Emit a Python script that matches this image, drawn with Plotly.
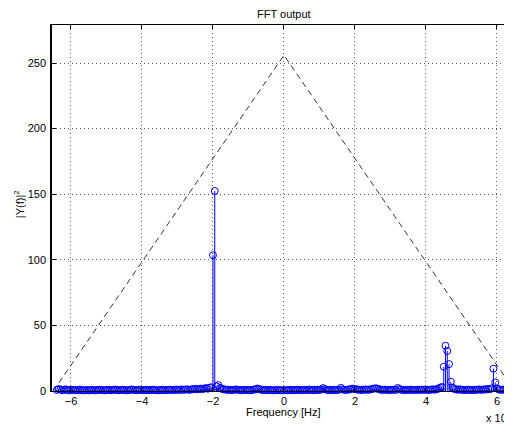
import numpy as np
import plotly.graph_objects as go

# FFT bin grid (units of 1e7 Hz): N bins, sampling frequency fs
N = 256
fs = 12.8
freq = (np.arange(N) - N / 2) * fs / N

# |Y(f)|^2 values
power = [
    0.8, 1.5, 1.2, 0.6, 0.9, 1.3, 0.7, 0.5, 1.0, 0.8, 0.6, 0.9, 0.7, 1.1, 0.6, 0.5,
    0.6, 0.8, 0.5, 0.7, 0.9, 0.6, 0.5, 0.8, 1.0, 0.7, 0.6, 0.5, 0.8, 0.9, 0.6, 0.7,
    0.9, 1.1, 0.7, 0.6, 0.8, 1.0, 0.7, 0.5, 0.6, 0.8, 1.2, 0.9, 0.7, 0.6, 0.8, 1.0,
    0.7, 0.6, 0.9, 0.8, 0.6, 0.7, 1.0, 0.8, 0.6, 0.5, 0.7, 0.9, 0.8, 0.6, 0.7, 0.9,
    1.0, 0.8, 0.7, 1.1, 0.9, 0.8, 1.2, 1.0, 0.9, 1.3, 1.1, 0.9, 1.4, 1.2, 1.6, 1.3,
    1.5, 1.8, 1.4, 1.9, 2.2, 1.7, 2.5, 2.8, 103.5, 152.5, 3.5, 4.5, 2.4, 1.6, 1.3, 1.1,
    0.9, 1.0, 0.8, 0.7, 0.9, 1.2, 1.0, 0.8, 0.6, 0.7, 0.9, 0.8, 0.6, 0.7, 0.8, 1.0,
    1.4, 1.9, 1.5, 1.0, 0.8, 0.7, 0.9, 0.6, 0.8, 0.7, 0.5, 0.6, 0.8, 0.7, 0.6, 0.5,
    0.6, 0.7, 0.5, 0.8, 0.9, 0.7, 0.6, 0.8, 1.0, 0.7, 0.6, 0.8, 0.9, 0.7, 1.1, 0.8,
    0.6, 0.9, 0.7, 1.0, 0.8, 1.2, 2.2, 1.4, 0.9, 0.7, 0.8, 0.6, 0.9, 0.7, 0.8, 1.0,
    2.4, 1.3, 0.9, 0.8, 1.0, 1.3, 1.6, 1.8, 1.5, 1.2, 1.0, 0.9, 0.8, 1.0, 1.2, 0.9,
    1.0, 1.3, 1.7, 1.9, 2.1, 1.6, 1.2, 0.9, 0.8, 1.1, 0.9, 0.7, 0.8, 1.0, 0.9, 0.8,
    2.3, 1.5, 1.0, 0.8, 0.7, 0.9, 0.8, 1.0, 0.9, 0.7, 0.8, 0.9, 1.0, 0.8, 1.1, 0.9,
    1.0, 0.9, 0.8, 1.1, 1.2, 1.0, 1.4, 1.8, 2.6, 3.0, 18.5, 34.5, 30.5, 20.5, 7.0, 2.5,
    1.6, 1.2, 1.0, 1.3, 0.9, 0.8, 0.7, 0.9, 1.0, 0.8, 0.7, 0.9, 0.8, 1.0, 1.2, 0.9,
    1.0, 1.3, 1.1, 1.6, 1.4, 2.0, 17.0, 6.5, 2.0, 1.2, 0.9, 1.0, 1.1, 0.8, 1.0, 0.9,
]

# dashed reference envelope
env_x = [-6.5, 0.0, 6.5]
env_y = [0.0, 256.0, 0.0]

x_ticks = [-6, -4, -2, 0, 2, 4, 6]
x_tick_labels = ["\u22126", "\u22124", "\u22122", "0", "2", "4", "6"]
y_ticks = [0, 50, 100, 150, 200, 250]

FONT = "Liberation Sans, Arial, Helvetica, sans-serif"
BLUE = "#0000ff"

# stems built from the data
stem_x, stem_y = [], []
for f, p in zip(freq, power):
    stem_x += [f, f, None]
    stem_y += [0, p, None]

fig = go.Figure()
fig.add_trace(go.Scatter(x=env_x, y=env_y, mode="lines",
                         line=dict(color="#333333", width=1, dash="6px,4px"),
                         hoverinfo="skip", showlegend=False))
fig.add_trace(go.Scatter(x=stem_x, y=stem_y, mode="lines",
                         line=dict(color=BLUE, width=1),
                         hoverinfo="skip", showlegend=False))
fig.add_trace(go.Scatter(x=list(freq), y=power, mode="markers",
                         marker=dict(symbol="circle-open", size=7, color=BLUE,
                                     line=dict(width=1, color=BLUE)),
                         cliponaxis=False, showlegend=False))
# top box edge with inward ticks
fig.add_trace(go.Scatter(x=env_x, y=env_y, xaxis="x2", mode="lines",
                         line=dict(width=0), opacity=0, showlegend=False,
                         hoverinfo="skip"))

xr = [-6.535, 6.423]
# page body adds an 8px offset, so the figure is 8px smaller than the window
fig.update_layout(
    width=504, height=417,
    margin=dict(l=44, r=0, t=17, b=34),
    paper_bgcolor="white", plot_bgcolor="white",
    font=dict(family=FONT, size=11, color="black"),
    xaxis=dict(range=xr, tickvals=x_ticks, ticktext=x_tick_labels,
               showgrid=True, gridcolor="#555555", griddash="1px,3px", gridwidth=1,
               zeroline=False, showline=True, linecolor="black", linewidth=1,
               ticks="inside", ticklen=4, tickcolor="black", tickfont=dict(size=11)),
    xaxis2=dict(range=xr, overlaying="x", side="top", tickvals=x_ticks,
                showticklabels=False, showgrid=False, zeroline=False,
                showline=True, linecolor="black", linewidth=1,
                ticks="inside", ticklen=4, tickcolor="black"),
    yaxis=dict(range=[0, 279], tickvals=y_ticks,
               showgrid=True, gridcolor="#555555", griddash="1px,3px", gridwidth=1,
               zeroline=False, showline=True, linecolor="black", linewidth=1.5,
               ticks="inside", ticklen=4, tickcolor="black", tickfont=dict(size=11),
               ticklabelstandoff=2),
    annotations=[
        dict(text="FFT output", xref="paper", yref="paper", x=0.504, y=1.03,
             xanchor="center", yanchor="middle", showarrow=False, font=dict(size=11)),
        dict(text="Frequency [Hz]", xref="paper", yref="paper", x=0.504, y=-0.058,
             xanchor="center", yanchor="middle", showarrow=False, font=dict(size=11)),
        dict(text="|Y(f)|<sup>2</sup>", xref="paper", yref="paper", x=-0.07, y=0.51,
             xanchor="center", yanchor="middle", textangle=-90, showarrow=False,
             font=dict(size=11)),
        dict(text="x 10<sup>7</sup>", xref="paper", yref="paper", x=0.94, y=-0.072,
             xanchor="left", yanchor="middle", showarrow=False, font=dict(size=11)),
    ],
)

fig.write_html("out.html")
